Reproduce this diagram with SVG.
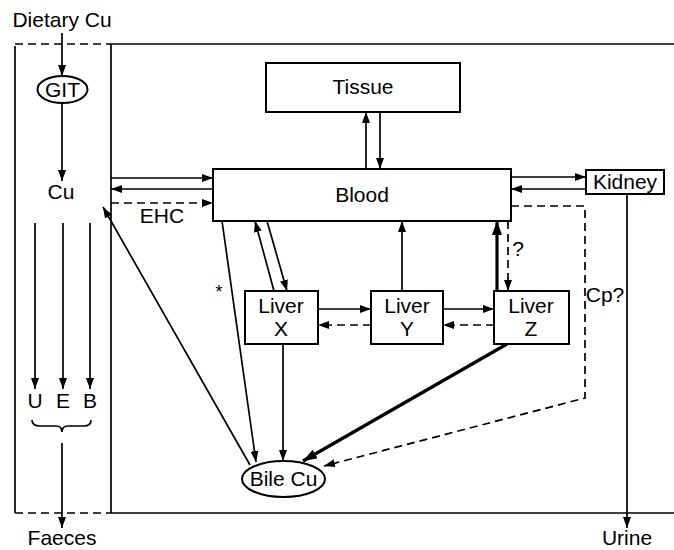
<svg xmlns="http://www.w3.org/2000/svg" width="674" height="550" viewBox="0 0 674 550">
<defs>
<marker id="ah" markerUnits="userSpaceOnUse" markerWidth="11" markerHeight="8" refX="11" refY="4" orient="auto">
<path d="M0,0 L11,4 L0,8 z" fill="#000"/>
</marker>
<marker id="ahb" markerUnits="userSpaceOnUse" markerWidth="14" markerHeight="10" refX="14" refY="5" orient="auto">
<path d="M0,0 L14,5 L0,10 z" fill="#000"/>
</marker>
<style>
text{font-family:"Liberation Sans",Arial,sans-serif;font-size:21px;fill:#000;text-anchor:middle}
.box{fill:#fff;stroke:#000;stroke-width:2}
.ln{fill:none;stroke:#000;stroke-width:1.7}
.ar{fill:none;stroke:#000;stroke-width:1.7;marker-end:url(#ah)}
.da{fill:none;stroke:#000;stroke-width:1.7;stroke-dasharray:8 5;marker-end:url(#ah)}
.th{fill:none;stroke:#000;stroke-width:3.2;marker-end:url(#ahb)}
.dl{fill:none;stroke:#000;stroke-width:1.7;stroke-dasharray:8 5}
</style>
</defs>
<g id="frame">
<path class="ln" d="M15,46 L15,513"/>
<path class="dl" d="M15,44 L111,44"/>
<path class="dl" d="M15,513 L111,513"/>
<path class="ln" d="M111,44 L111,513"/>
<path class="ln" d="M111,44 L674,44"/>
<path class="ln" d="M111,513 L674,513"/>
<path class="ln" d="M32,420 Q32,426 40,426 L56,426 Q62,426 62,432 Q62,426 68,426 L84,426 Q91,426 91,420"/>
</g>
<g id="connectors">
<path class="ar" d="M62,33 L62,76"/>
<path class="ar" d="M62,103 L62,181"/>
<path class="ar" d="M111,178 L213,178"/>
<path class="ar" d="M213,189 L111,189"/>
<path class="da" d="M111,203 L213,203"/>
<path class="ar" d="M366,169 L366,112"/>
<path class="ar" d="M380,112 L380,169"/>
<path class="ar" d="M511,177 L586,177"/>
<path class="ar" d="M586,189 L511,189"/>
<path class="da" d="M511,206 L585,206 L585,398 L324,466"/>
<path class="ar" d="M627,194 L627,528"/>
<path class="ar" d="M267,221 L287,291"/>
<path class="ar" d="M274,291 L255,221"/>
<path class="ar" d="M222,221 L256,462"/>
<path class="ar" d="M283,344 L283,461"/>
<path class="ar" d="M318,309 L371,309"/>
<path class="da" d="M371,325 L318,325"/>
<path class="ar" d="M443,309 L494,309"/>
<path class="da" d="M494,325 L443,325"/>
<path class="ar" d="M402,291 L402,221"/>
<path class="th" d="M497,291 L497,221"/>
<path class="da" d="M508,221 L508,291"/>
<path class="th" d="M507,344 L303,461"/>
<path class="ar" d="M250,465 L103,207"/>
<path class="ar" d="M35,223 L35,389"/>
<path class="ar" d="M63,223 L63,389"/>
<path class="ar" d="M90,223 L90,389"/>
<path class="ar" d="M62,443 L62,528"/>
</g>
<g id="dietary"><text x="62" y="27">Dietary Cu</text></g>
<g id="git"><ellipse class="box" cx="62.5" cy="89.5" rx="25" ry="13.5"/><text x="62.5" y="97">GIT</text></g>
<g id="cu"><text x="61" y="199">Cu</text></g>
<g id="ehc"><text x="162" y="223">EHC</text></g>
<g id="tissue"><rect class="box" x="266" y="63" width="194" height="49"/><text x="363" y="94">Tissue</text></g>
<g id="blood"><rect class="box" x="213" y="169" width="298" height="52"/><text x="362" y="202">Blood</text></g>
<g id="kidney"><rect class="box" x="586" y="170" width="78" height="24"/><text x="625" y="189">Kidney</text></g>
<g id="liverX"><rect class="box" x="245" y="291" width="73" height="53"/><text x="281" y="313">Liver</text><text x="281" y="336">X</text></g>
<g id="liverY"><rect class="box" x="371" y="291" width="72" height="53"/><text x="407" y="313">Liver</text><text x="407" y="336">Y</text></g>
<g id="liverZ"><rect class="box" x="494" y="291" width="75" height="53"/><text x="531" y="313">Liver</text><text x="531" y="336">Z</text></g>
<g id="bile"><ellipse class="box" cx="283.5" cy="479" rx="41.5" ry="18"/><text x="283.5" y="486">Bile Cu</text></g>
<g id="labels">
<text x="219" y="298" style="font-size:18px">*</text>
<text x="518" y="256">?</text>
<text x="605" y="302">Cp?</text>
<text x="35" y="408">U</text>
<text x="63" y="408">E</text>
<text x="90" y="408">B</text>
<text x="62" y="545">Faeces</text>
<text x="627" y="545">Urine</text>
</g>
</svg>
